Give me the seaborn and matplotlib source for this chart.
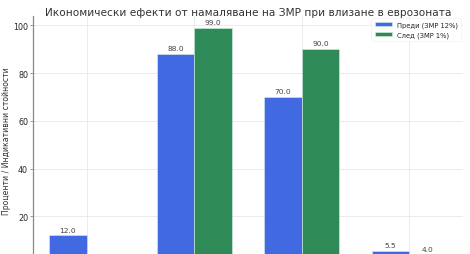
import matplotlib
matplotlib.use("Agg")
import matplotlib.pyplot as plt
import seaborn as sns
import pandas as pd

categories = ["ЗМР (%)", "Потребление (индекс)", "Инвестиции (индекс)", "Инфлация (%)"]
series_names = ["Преди (ЗМР 12%)", "След (ЗМР 1%)"]
before_values = [12.0, 88.0, 70.0, 5.5]
after_values = [1.0, 99.0, 90.0, 4.0]
colors = ["#4169E1", "#2E8B57"]

df = pd.DataFrame({
    "Категория": categories * 2,
    "Стойност": before_values + after_values,
    "Период": [series_names[0]] * 4 + [series_names[1]] * 4,
})

sns.set_style("whitegrid")
plt.rcParams["font.family"] = ["DejaVu Sans"]

fig = plt.figure(figsize=(4.7, 2.55), dpi=100)
ax = fig.add_axes([0.070, -0.039, 0.915, 0.9725])

sns.barplot(data=df, x="Категория", y="Стойност", hue="Период",
            palette=colors, saturation=1, width=0.7, ax=ax,
            edgecolor="#d8f0e8", linewidth=0.4)

for cont in ax.containers:
    ax.bar_label(cont, fmt="%.1f", fontsize=5.4, color="#444444", padding=2)

ax.set_title("Икономически ефекти от намаляване на ЗМР при влизане в еврозоната",
             fontsize=7.6, color="#333333", pad=1)
ax.set_ylabel("Проценти / Индикативни стойности", fontsize=5.6, color="#333333", labelpad=1.5)
ax.set_xlabel("")
ax.set_yticks([0, 20, 40, 60, 80, 100])
ax.tick_params(axis="y", labelsize=5.8, length=2.5, width=0.6, color="#888888", pad=1, left=True)
ax.tick_params(axis="x", labelsize=5.8)
ax.grid(True, color="#e8e8e8", linewidth=0.6)
for s in ["top", "right", "bottom"]:
    ax.spines[s].set_visible(False)
ax.spines["left"].set_color("#888888")
ax.spines["left"].set_linewidth(0.9)

leg = ax.legend(loc="upper right", fontsize=4.9, frameon=True, handlelength=2.6,
                handleheight=0.7, borderpad=0.5, labelspacing=0.5, handletextpad=0.6,
                borderaxespad=0.3)
leg.get_frame().set_edgecolor("#eeeeee")
leg.get_frame().set_linewidth(0.5)
leg.set_title(None)

fig.savefig("out.png", dpi=100)
